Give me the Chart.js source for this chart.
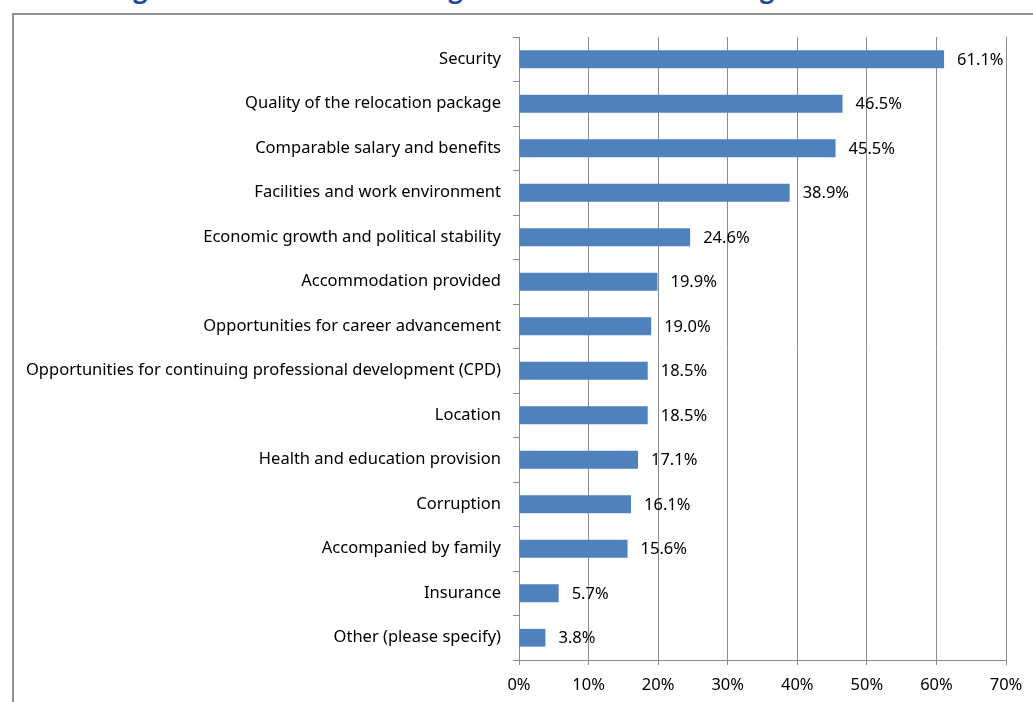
<!DOCTYPE html>
<html>
<head>
<meta charset="utf-8">
<script src="https://cdn.jsdelivr.net/npm/chart.js@4"></script>
<style>
  html, body { margin: 0; padding: 0; background: #fff; overflow: hidden; }
  #wrap { position: relative; width: 1033px; height: 702px; overflow: hidden; }
  #frame { position: absolute; left: 12px; top: 13px; width: 1100px; height: 800px; border: 2px solid #8e8e8e; box-sizing: border-box; }
  #title { position: absolute; left: 112px; top: -29px; font: bold 25px "Open Sans", sans-serif; color: #1f4e9a; white-space: nowrap; }
  canvas { position: absolute; left: 0; top: 0; }
</style>
</head>
<body>
<div id="wrap">
  <div id="title">Figure 6: Factors influencing decision to return to Nigeria</div>
  <div id="frame"></div>
  <canvas id="chart" width="1033" height="702"></canvas>
</div>
<script>
// données
const categories = [
  'Security',
  'Quality of the relocation package',
  'Comparable salary and benefits',
  'Facilities and work environment',
  'Economic growth and political stability',
  'Accommodation provided',
  'Opportunities for career advancement',
  'Opportunities for continuing professional development (CPD)',
  'Location',
  'Health and education provision',
  'Corruption',
  'Accompanied by family',
  'Insurance',
  'Other (please specify)'
];
const percentages = [61.1, 46.5, 45.5, 38.9, 24.6, 19.9, 19.0, 18.5, 18.5, 17.1, 16.1, 15.6, 5.7, 3.8];
const xTicks = [0, 10, 20, 30, 40, 50, 60, 70];

const FONT = 'Noto Sans';
const FONT_SIZE = 16.5;
const GRID = '#8a8a8a';

// étiquettes de valeur à droite des barres
const valueLabels = {
    id: 'valueLabels',
    afterDatasetsDraw(chart) {
        const ctx = chart.ctx;
        const meta = chart.getDatasetMeta(0);
        ctx.save();
        ctx.font = FONT_SIZE + 'px "' + FONT + '"';
        ctx.fillStyle = '#000';
        ctx.textAlign = 'left';
        ctx.textBaseline = 'middle';
        meta.data.forEach((bar, i) => {
            ctx.fillText(percentages[i].toFixed(1) + '%', bar.x + 13, bar.y + 1);
        });
        ctx.restore();
    }
};

new Chart(document.getElementById('chart').getContext('2d'), {
    type: 'bar',
    data: {
        labels: categories,
        datasets: [{
            data: percentages,
            backgroundColor: '#4f81bd',
            barPercentage: 0.4,
            categoryPercentage: 1
        }]
    },
    options: {
        indexAxis: 'y',
        responsive: false,
        animation: false,
        layout: { padding: { top: 37, right: 27, bottom: 0, left: 0 } },
        plugins: {
            legend: { display: false },
            tooltip: { enabled: false }
        },
        scales: {
            y: {
                type: 'category',
                offset: true,
                afterFit: (scale) => { scale.width = 519; },
                grid: { drawOnChartArea: false, offset: true, tickLength: 6, color: GRID },
                border: { color: GRID },
                ticks: { color: '#000', padding: 12, font: { family: FONT, size: FONT_SIZE } }
            },
            x: {
                min: 0,
                max: 70,
                afterFit: (scale) => { scale.height = 42; },
                afterBuildTicks: (scale) => { scale.ticks = xTicks.map(v => ({ value: v })); },
                grid: { color: GRID, tickLength: 5 },
                border: { color: GRID },
                ticks: {
                    color: '#000',
                    padding: 10,
                    font: { family: FONT, size: FONT_SIZE },
                    callback: (v) => v + '%'
                }
            }
        }
    },
    plugins: [valueLabels]
});
</script>
</body>
</html>
